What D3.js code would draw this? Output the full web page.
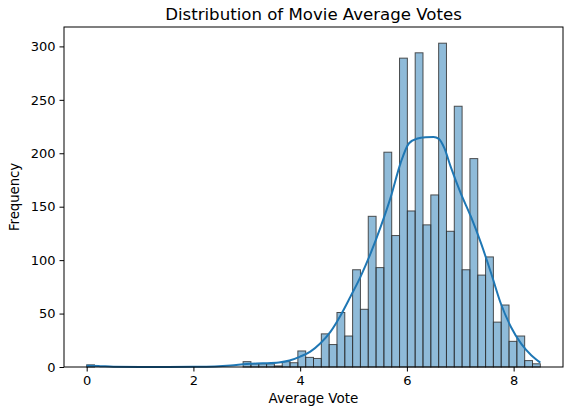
<!DOCTYPE html>
<html>
<head>
<meta charset="utf-8">
<script src="https://cdn.jsdelivr.net/npm/d3@7/dist/d3.min.js"></script>
<style>
html,body{margin:0;padding:0;background:#fff;}
svg{display:block;}
text{font-family:"DejaVu Sans",sans-serif;fill:#000;}
</style>
</head>
<body>
<svg id="chart" width="569" height="412"></svg>
<script>
// Histogram: 58 bins from 0 to 8.5
const binStart = 0;
const binEnd = 8.5;
const binCounts = [
  2, 0, 0, 0, 0, 0, 0, 0, 0, 0,
  0, 0, 0, 0, 0, 0, 0, 0, 0, 0,
  5, 3, 3, 3, 1, 5, 4, 15, 9, 8,
  31, 21, 51, 29, 91, 54, 141, 93, 201, 123,
  289, 146, 294, 133, 161, 303, 127, 244, 91, 195,
  86, 103, 42, 58, 24, 29, 6, 3
];
// KDE curve (scaled to counts)
const kdeX = [0, 0.25, 0.5, 1.0, 1.5, 2.0, 2.4, 2.7, 3.0, 3.3, 3.6, 3.8, 4.0, 4.19, 4.38, 4.57, 4.76, 4.94, 5.13, 5.32, 5.51, 5.70, 5.88, 6.04, 6.2, 6.35, 6.5, 6.6, 6.7, 6.82, 7.01, 7.20, 7.39, 7.58, 7.76, 7.95, 8.14, 8.33, 8.5];
const kdeY = [1.2, 0.8, 0.3, 0.1, 0.1, 0.2, 0.5, 1.3, 2.8, 3.4, 4.2, 6.0, 9.7, 14.4, 22.2, 33.1, 48.5, 65.6, 84.4, 106.3, 131.3, 159.4, 190.6, 209.4, 213.8, 215, 215.3, 213.5, 205, 187.5, 162.5, 140.6, 115.6, 87.5, 59.4, 37.5, 21.9, 11, 4.1];
const xTicks = [0, 2, 4, 6, 8];
const yTicks = [0, 50, 100, 150, 200, 250, 300];
const title = "Distribution of Movie Average Votes";
const xLabel = "Average Vote";
const yLabel = "Frequency";

const svg = d3.select("#chart");
const mLeft = 64, mRight = 563, mTop = 27, mBottom = 367;

const nBins = binCounts.length;
const bw = (binEnd - binStart) / nBins;
const bins = binCounts.map((c, i) => ({x0: binStart + i * bw, x1: binStart + (i + 1) * bw, c}));

const xPad = (binEnd - binStart) * 0.05;
const x = d3.scaleLinear().domain([binStart - xPad, binEnd + xPad]).range([mLeft, mRight]);
const yMax = d3.max(binCounts) * 1.05;
const y = d3.scaleLinear().domain([0, yMax]).range([mBottom, mTop]);

// bars
svg.append("g").selectAll("rect").data(bins).enter().append("rect")
  .attr("x", d => x(d.x0))
  .attr("y", d => y(d.c))
  .attr("width", d => x(d.x1) - x(d.x0))
  .attr("height", d => y(0) - y(d.c))
  .attr("fill", "rgba(31,119,180,0.5)")
  .attr("stroke", "#333")
  .attr("stroke-opacity", 0.85)
  .attr("stroke-width", 1);

// kde
const line = d3.line().x(d => x(d[0])).y(d => y(d[1])).curve(d3.curveMonotoneX);
svg.append("path")
  .datum(kdeX.map((v, i) => [v, kdeY[i]]))
  .attr("d", line)
  .attr("fill", "none")
  .attr("stroke", "#1f77b4")
  .attr("stroke-width", 2);

// frame
svg.append("rect").attr("x", mLeft).attr("y", mTop).attr("width", mRight - mLeft).attr("height", mBottom - mTop)
  .attr("fill", "none").attr("stroke", "#000").attr("stroke-width", 1);

// axes
const xAxis = d3.axisBottom(x).tickValues(xTicks).tickSize(4.5).tickPadding(4).tickFormat(d3.format("d"));
const gx = svg.append("g").attr("transform", `translate(0,${mBottom})`).call(xAxis);
const yAxis = d3.axisLeft(y).tickValues(yTicks).tickSize(4.5).tickPadding(4).tickFormat(d3.format("d"));
const gy = svg.append("g").attr("transform", `translate(${mLeft},0)`).call(yAxis);
[gx, gy].forEach(g => {
  g.select(".domain").remove();
  g.selectAll("line").attr("stroke", "#000").attr("stroke-width", 1);
  g.selectAll("text").style("font-family", "DejaVu Sans").style("font-size", "13px").attr("fill", "#000");
});

svg.append("text").attr("x", (mLeft + mRight) / 2).attr("y", 19.5).attr("text-anchor", "middle")
  .style("font-size", "16.6px").text(title);
svg.append("text").attr("x", (mLeft + mRight) / 2).attr("y", 403).attr("text-anchor", "middle")
  .style("font-size", "13.5px").text(xLabel);
svg.append("text").attr("transform", `translate(18.5,${(mTop + mBottom) / 2}) rotate(-90)`).attr("text-anchor", "middle")
  .style("font-size", "13.2px").text(yLabel);
</script>
</body>
</html>
